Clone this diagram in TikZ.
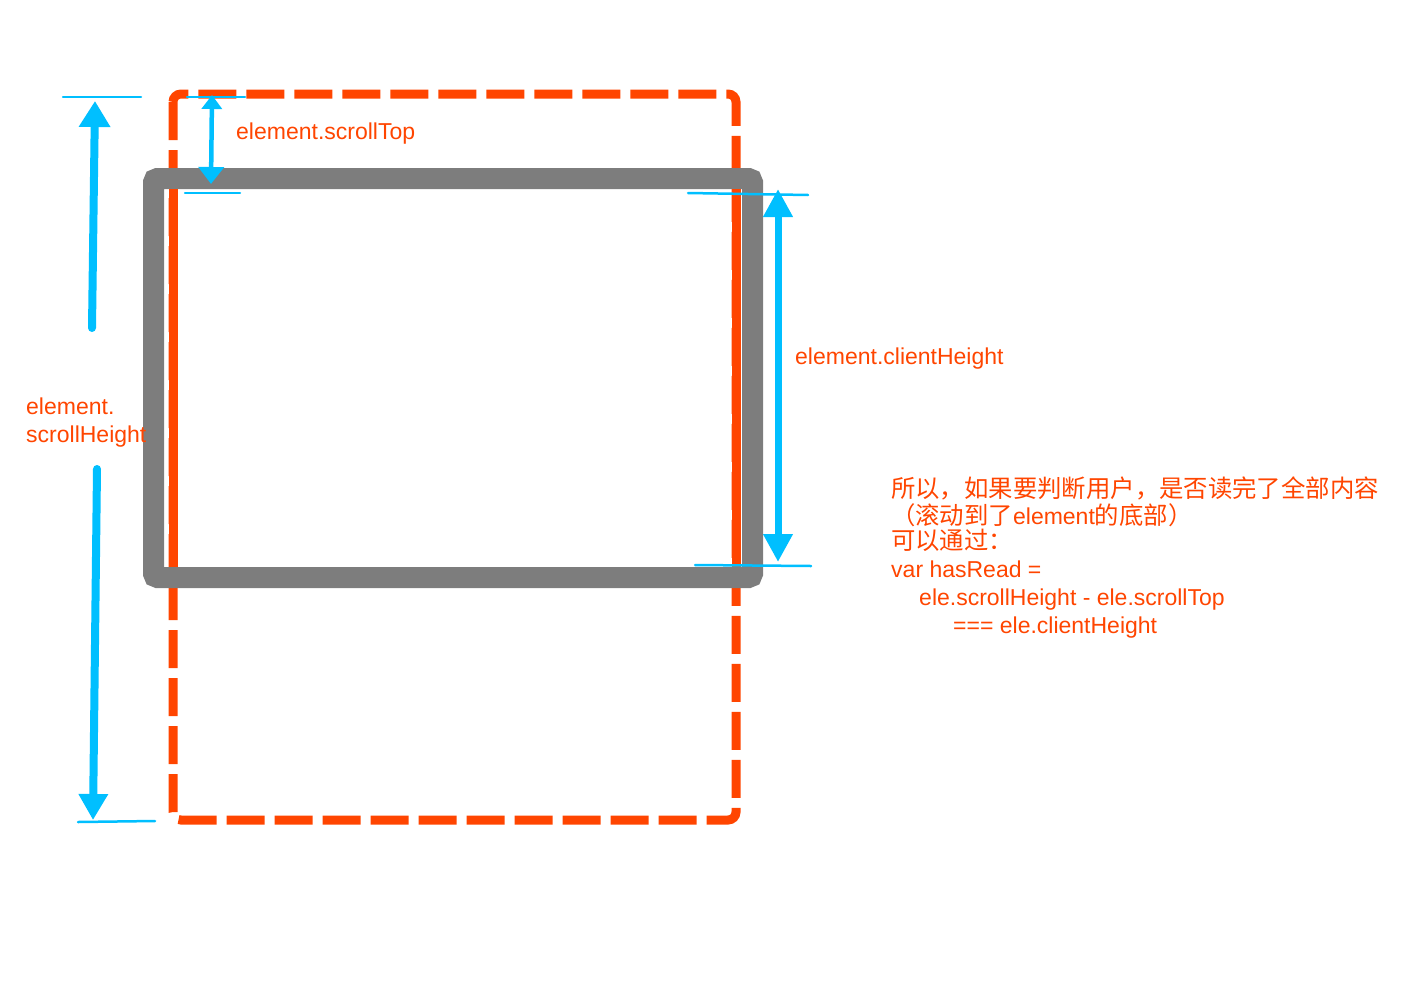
\documentclass[tikz,border=0pt]{standalone}
\usepackage{fontspec}
\setmainfont{Liberation Sans}
\newfontfamily\cjk[Scale=1.06]{Noto Sans CJK SC}
\usetikzlibrary{arrows.meta}
\definecolor{ored}{RGB}{255,69,0}
\definecolor{sky}{RGB}{0,191,255}
\definecolor{boxgrey}{RGB}{125,125,125}
\begin{document}
\begin{tikzpicture}[x=1pt,y=-1pt,
  lbl/.style={text=ored, font=\fontsize{23}{28}\selectfont, inner sep=0pt, anchor=base west},
  tickline/.style={draw=sky, line width=2.5pt, line cap=round},
  dimthin/.style={draw=sky, line width=4.5pt},
  dimmid/.style={draw=sky, line width=7pt},
  dimthick/.style={draw=sky, line width=8pt, line cap=round},
]
\useasboundingbox (0,0) rectangle (1418,982);

% content area (dashed)
\draw[ored, line width=9pt, rounded corners=8pt, dash pattern=on 38pt off 10pt]
  (173,94) rectangle (736,820);
% visible viewport
\draw[boxgrey, line width=21pt, rounded corners=4pt] (153.5,178.5) rectangle (752.5,577.5);
\draw[ored, line width=9pt] (173,189) -- (173,567);
\draw[ored, line width=9pt] (736,189) -- (736,567);

% scrollTop dimension
\coordinate (stA) at (187,97);  \coordinate (stB) at (245,97);
\coordinate (stC) at (185,193); \coordinate (stD) at (240,193);
\draw[tickline] (stA) -- (stB);
\draw[tickline] (stC) -- (stD);
\coordinate (stT) at (212,95); \coordinate (stBot) at (211,184);
\draw[dimthin, {Triangle[length=14pt,width=20pt]}-{Triangle[length=17pt,width=25pt]}] (stT) -- (stBot);

% scrollHeight dimension
\coordinate (shA) at (63,97);  \coordinate (shB) at (141,97);
\coordinate (shC) at (78,822); \coordinate (shD) at (155,821);
\draw[tickline] (shA) -- (shB);
\draw[tickline] (shC) -- (shD);
\coordinate (sh1s) at (92,328); \coordinate (sh1e) at (95,101);
\coordinate (sh2s) at (97,469); \coordinate (sh2e) at (93,820);
\draw[dimthick, -{Triangle[length=26pt,width=30pt]}] (sh1s) -- (sh1e);
\draw[dimthick, -{Triangle[length=26pt,width=28pt]}] (sh2s) -- (sh2e);

% clientHeight dimension
\coordinate (chA) at (688,193); \coordinate (chB) at (808,195);
\coordinate (chC) at (695,565); \coordinate (chD) at (811,566);
\draw[tickline] (chA) -- (chB);
\draw[tickline] (chC) -- (chD);
\coordinate (chT) at (778,189); \coordinate (chBot) at (778,562);
\draw[dimmid, {Triangle[length=28pt,width=28pt]}-{Triangle[length=28pt,width=28pt]}] (chT) -- (chBot);

% labels
\node[lbl] (lst) at (236,139) {element.scrollTop};
\node[lbl] (lch) at (795,364) {element.clientHeight};
\node[lbl] (lsh1) at (26,414) {element.};
\node[lbl] (lsh2) at (26,442) {scrollHeight};

% explanation
\node[lbl] (t1) at (891,497) {\cjk 所以，如果要判断用户，是否读完了全部内容};
\node[lbl] (t2) at (891,524) {{\cjk （滚动到了}element{\cjk 的底部）}};
\node[lbl] (t3) at (891,549) {\cjk 可以通过：};
\node[lbl] (t4) at (891,577) {var hasRead =};
\node[lbl] (t5) at (919,605) {ele.scrollHeight - ele.scrollTop};
\node[lbl] (t6) at (953,633) {=== ele.clientHeight};
\end{tikzpicture}
\end{document}
